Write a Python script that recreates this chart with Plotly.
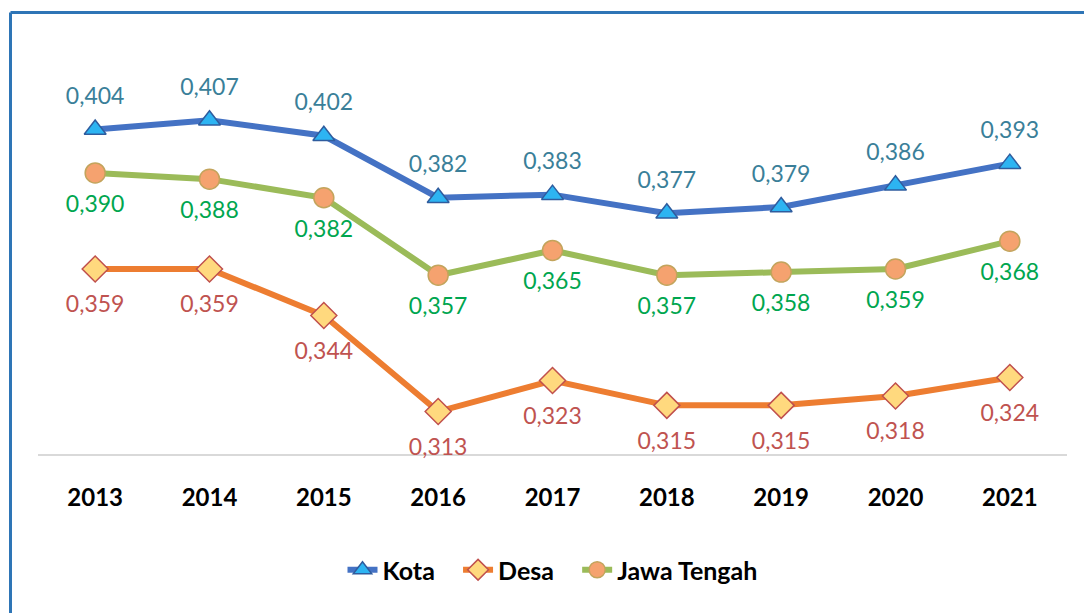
import plotly.graph_objects as go

years = ["2013", "2014", "2015", "2016", "2017", "2018", "2019", "2020", "2021"]
kota = [0.404, 0.407, 0.402, 0.382, 0.383, 0.377, 0.379, 0.386, 0.393]
desa = [0.359, 0.359, 0.344, 0.313, 0.323, 0.315, 0.315, 0.318, 0.324]
jateng = [0.390, 0.388, 0.382, 0.357, 0.365, 0.357, 0.358, 0.359, 0.368]
baseline = 0.299

FONT = "Lato, Open Sans, sans-serif"

W, H = 1084, 613
L, R, T, B = 38, 17, 80, 93
pw, ph = W - L - R, H - T - B


def px_x(px):
    return (px - L) / pw


def px_y(py):
    return (H - B - py) / ph


PAD = "\u00a0" * 3

series = [
    dict(name="Kota", y=kota, line="#4472C4", mfill="#2DB4F2", mline="#2F5C9E",
         symbol="triangle-up", size=19, lab="#3A7F99", pos="top center", tsize=30, pad=PAD),
    dict(name="Desa", y=desa, line="#ED7D31", mfill="#FFD97E", mline="#C0504D",
         symbol="diamond", size=20, lab="#BF5350", pos="bottom center", tsize=40, pad=PAD),
    dict(name="Jawa Tengah", y=jateng, line="#9BBB59", mfill="#F5A26F", mline="#C3A45C",
         symbol="circle", size=20, lab="#00A64F", pos="bottom center", tsize=33, pad=""),
]

fig = go.Figure()
for s in series:
    fig.add_trace(go.Scatter(
        x=years, y=s["y"], name=s["name"] + s["pad"], mode="lines+markers",
        line=dict(color=s["line"], width=6),
        marker=dict(symbol=s["symbol"], size=s["size"], color=s["mfill"],
                    line=dict(color=s["mline"], width=1.5)),
        cliponaxis=False, hoverinfo="x+y",
    ))
for s in series:
    fig.add_trace(go.Scatter(
        x=years, y=s["y"], mode="markers+text", showlegend=False, hoverinfo="skip",
        marker=dict(size=s["tsize"], opacity=0),
        text=[f"{v:.3f}".replace(".", ",") for v in s["y"]],
        textposition=s["pos"],
        textfont=dict(family=FONT, size=23, color=s["lab"]),
        cliponaxis=False,
    ))

fig.update_layout(
    width=W, height=H,
    margin=dict(l=L, r=R, t=T, b=B),
    paper_bgcolor="white", plot_bgcolor="white",
    showlegend=True,
    legend=dict(orientation="h", x=0.5, xanchor="center", y=px_y(570), yanchor="middle",
                font=dict(family=FONT, size=25, color="#000000", weight="bold"),
                tracegroupgap=0),
    shapes=[
        dict(type="line", xref="paper", yref="y", x0=0, x1=1, y0=baseline, y1=baseline,
             line=dict(color="#D9D9D9", width=2), layer="below"),
        dict(type="line", xref="paper", yref="paper", x0=px_x(10.5), x1=px_x(10.5),
             y0=px_y(620), y1=px_y(12.5), line=dict(color="#2E75B6", width=3)),
        dict(type="line", xref="paper", yref="paper", x0=px_x(10.5), x1=px_x(1090),
             y0=px_y(12.5), y1=px_y(12.5), line=dict(color="#2E75B6", width=3)),
    ],
)
fig.update_xaxes(type="category", range=[-0.5, 8.5], showline=False,
                 showgrid=False, zeroline=False, ticks="",
                 ticklabelposition="inside",
                 tickfont=dict(family=FONT, size=24, color="#000000", weight="bold"),
                 ticklabelstandoff=6)
fig.update_yaxes(range=[0.278, 0.42], visible=False, showgrid=False, zeroline=False)

fig.write_html("out.html", config={"displayModeBar": False},
               post_script="document.body.style.margin='0';")
